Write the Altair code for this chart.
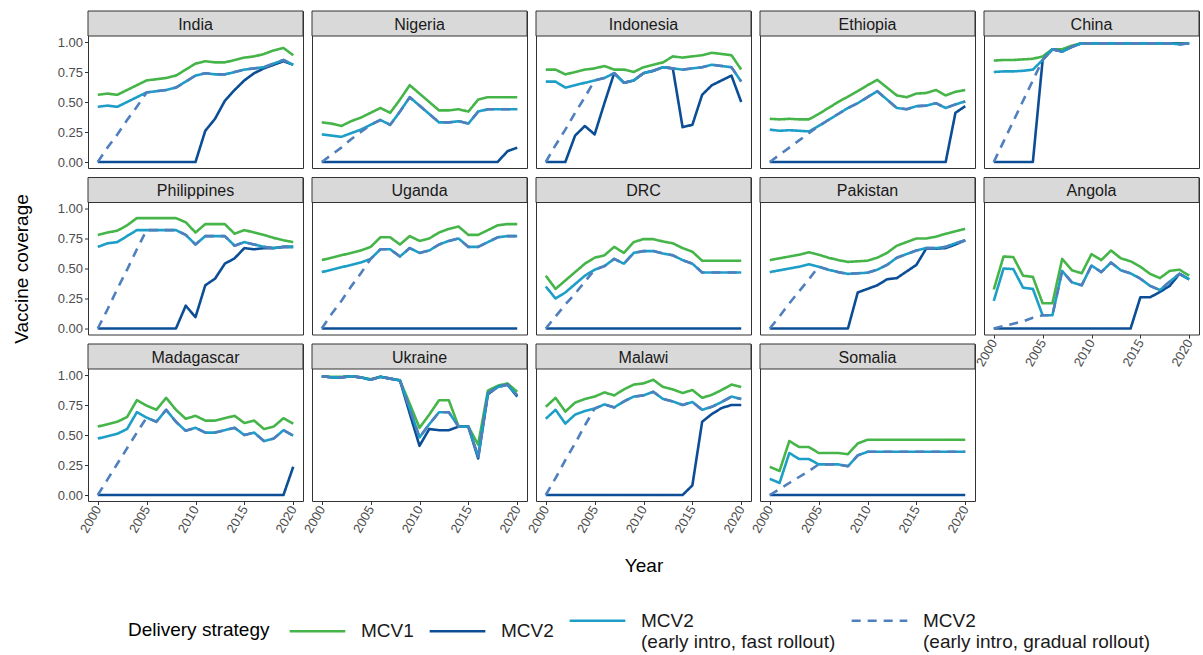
import altair as alt
import pandas as pd

FONT = "Liberation Sans"
YEARS = list(range(2000, 2021))

COUNTRIES = ["India", "Nigeria", "Indonesia", "Ethiopia", "China",
             "Philippines", "Uganda", "DRC", "Pakistan", "Angola",
             "Madagascar", "Ukraine", "Malawi", "Somalia"]

STRATEGIES = ["MCV1", "MCV2",
              "MCV2|(early intro, fast rollout)",
              "MCV2|(early intro, gradual rollout)"]
COLORS = ["#45b549", "#0c4e96", "#1d9ec7", "#4f7fbd"]

# Coverage per year, 2000-2020
INDIA_MCV1 = [0.56, 0.57, 0.56, 0.60, 0.64, 0.68, 0.69, 0.70, 0.72, 0.77, 0.82, 0.84, 0.83, 0.83, 0.85, 0.87, 0.88, 0.90, 0.93, 0.95, 0.89]
INDIA_MCV2 = [0, 0, 0, 0, 0, 0, 0, 0, 0, 0, 0, 0.26, 0.36, 0.51, 0.60, 0.68, 0.74, 0.78, 0.81, 0.84, 0.81]
INDIA_FAST = [0.46, 0.47, 0.46, 0.50, 0.54, 0.58, 0.59, 0.60, 0.62, 0.67, 0.72, 0.74, 0.73, 0.73, 0.75, 0.77, 0.78, 0.79, 0.82, 0.85, 0.81]
INDIA_GRADUAL = [0, 0.12, 0.23, 0.35, 0.46, 0.58, 0.59, 0.60, 0.62, 0.67, 0.72, 0.74, 0.73, 0.73, 0.75, 0.77, 0.78, 0.79, 0.82, 0.85, 0.81]

NIGERIA_MCV1 = [0.33, 0.32, 0.30, 0.34, 0.37, 0.41, 0.45, 0.41, 0.52, 0.64, 0.57, 0.50, 0.43, 0.43, 0.44, 0.42, 0.52, 0.54, 0.54, 0.54, 0.54]
NIGERIA_MCV2 = [0, 0, 0, 0, 0, 0, 0, 0, 0, 0, 0, 0, 0, 0, 0, 0, 0, 0, 0, 0.09, 0.12]
NIGERIA_FAST = [0.23, 0.22, 0.21, 0.24, 0.27, 0.31, 0.35, 0.31, 0.42, 0.54, 0.47, 0.40, 0.33, 0.33, 0.34, 0.32, 0.42, 0.44, 0.44, 0.44, 0.44]
NIGERIA_GRADUAL = [0, 0.06, 0.12, 0.19, 0.25, 0.31, 0.35, 0.31, 0.42, 0.54, 0.47, 0.40, 0.33, 0.33, 0.34, 0.32, 0.42, 0.44, 0.44, 0.44, 0.44]

INDONESIA_MCV1 = [0.77, 0.77, 0.73, 0.75, 0.77, 0.78, 0.80, 0.77, 0.77, 0.75, 0.79, 0.81, 0.83, 0.88, 0.87, 0.88, 0.89, 0.91, 0.90, 0.89, 0.77]
INDONESIA_MCV2 = [0, 0, 0, 0.22, 0.30, 0.23, 0.49, 0.74, 0.66, 0.68, 0.74, 0.76, 0.79, 0.78, 0.29, 0.31, 0.56, 0.64, 0.68, 0.72, 0.50]
INDONESIA_FAST = [0.67, 0.67, 0.62, 0.64, 0.66, 0.68, 0.70, 0.74, 0.66, 0.68, 0.74, 0.76, 0.79, 0.78, 0.77, 0.78, 0.79, 0.81, 0.80, 0.79, 0.67]
INDONESIA_GRADUAL = [0, 0.14, 0.27, 0.41, 0.54, 0.68, 0.70, 0.74, 0.66, 0.68, 0.74, 0.76, 0.79, 0.78, 0.77, 0.78, 0.79, 0.81, 0.80, 0.79, 0.67]

ETHIOPIA_MCV1 = [0.36, 0.355, 0.36, 0.355, 0.355, 0.40, 0.45, 0.50, 0.545, 0.59, 0.64, 0.685, 0.62, 0.555, 0.54, 0.57, 0.575, 0.60, 0.555, 0.585, 0.60]
ETHIOPIA_MCV2 = [0, 0, 0, 0, 0, 0, 0, 0, 0, 0, 0, 0, 0, 0, 0, 0, 0, 0, 0, 0.41, 0.465]
ETHIOPIA_FAST = [0.27, 0.26, 0.265, 0.26, 0.255, 0.30, 0.35, 0.40, 0.45, 0.49, 0.54, 0.59, 0.52, 0.45, 0.44, 0.465, 0.47, 0.49, 0.45, 0.48, 0.505]
ETHIOPIA_GRADUAL = [0, 0.06, 0.12, 0.18, 0.24, 0.30, 0.35, 0.40, 0.45, 0.49, 0.54, 0.59, 0.52, 0.45, 0.44, 0.465, 0.47, 0.49, 0.45, 0.48, 0.505]

CHINA_MCV1 = [0.845, 0.85, 0.85, 0.855, 0.86, 0.88, 0.94, 0.94, 0.97, 0.99, 0.99, 0.99, 0.99, 0.99, 0.99, 0.99, 0.99, 0.99, 0.99, 0.99, 0.99]
CHINA_MCV2 = [0, 0, 0, 0, 0, 0.85, 0.94, 0.92, 0.96, 0.99, 0.99, 0.99, 0.99, 0.99, 0.99, 0.99, 0.99, 0.99, 0.99, 0.985, 0.99]
CHINA_FAST = [0.75, 0.755, 0.755, 0.76, 0.77, 0.85, 0.94, 0.92, 0.96, 0.99, 0.99, 0.99, 0.99, 0.99, 0.99, 0.99, 0.99, 0.99, 0.99, 0.98, 0.99]
CHINA_GRADUAL = [0, 0.17, 0.34, 0.51, 0.68, 0.85, 0.94, 0.92, 0.96, 0.99, 0.99, 0.99, 0.99, 0.99, 0.99, 0.99, 0.99, 0.99, 0.99, 0.98, 0.99]

PHILIPPINES_MCV1 = [0.78, 0.80, 0.815, 0.86, 0.92, 0.92, 0.92, 0.92, 0.92, 0.885, 0.80, 0.87, 0.87, 0.87, 0.79, 0.82, 0.80, 0.78, 0.755, 0.735, 0.72]
PHILIPPINES_MCV2 = [0, 0, 0, 0, 0, 0, 0, 0, 0, 0.19, 0.095, 0.36, 0.415, 0.54, 0.585, 0.67, 0.66, 0.67, 0.67, 0.68, 0.68]
PHILIPPINES_FAST = [0.68, 0.71, 0.72, 0.77, 0.82, 0.82, 0.82, 0.82, 0.82, 0.78, 0.70, 0.77, 0.77, 0.77, 0.69, 0.72, 0.70, 0.68, 0.67, 0.68, 0.68]
PHILIPPINES_GRADUAL = [0, 0.16, 0.33, 0.49, 0.66, 0.82, 0.82, 0.82, 0.82, 0.78, 0.70, 0.77, 0.77, 0.77, 0.69, 0.72, 0.70, 0.68, 0.67, 0.68, 0.68]

UGANDA_MCV1 = [0.57, 0.59, 0.61, 0.63, 0.65, 0.68, 0.76, 0.76, 0.70, 0.77, 0.73, 0.75, 0.80, 0.83, 0.85, 0.78, 0.78, 0.82, 0.86, 0.87, 0.87]
UGANDA_MCV2 = [0, 0, 0, 0, 0, 0, 0, 0, 0, 0, 0, 0, 0, 0, 0, 0, 0, 0, 0, 0, 0]
UGANDA_FAST = [0.47, 0.49, 0.51, 0.53, 0.55, 0.58, 0.66, 0.66, 0.60, 0.67, 0.63, 0.65, 0.70, 0.73, 0.75, 0.68, 0.68, 0.72, 0.76, 0.77, 0.77]
UGANDA_GRADUAL = [0, 0.12, 0.23, 0.35, 0.46, 0.58, 0.66, 0.66, 0.60, 0.67, 0.63, 0.65, 0.70, 0.73, 0.75, 0.68, 0.68, 0.72, 0.76, 0.77, 0.77]

DRC_MCV1 = [0.44, 0.33, 0.40, 0.47, 0.54, 0.59, 0.61, 0.68, 0.63, 0.72, 0.745, 0.745, 0.725, 0.71, 0.67, 0.64, 0.565, 0.565, 0.565, 0.565, 0.565]
DRC_MCV2 = [0, 0, 0, 0, 0, 0, 0, 0, 0, 0, 0, 0, 0, 0, 0, 0, 0, 0, 0, 0, 0]
DRC_FAST = [0.35, 0.25, 0.30, 0.37, 0.44, 0.49, 0.52, 0.58, 0.54, 0.63, 0.645, 0.645, 0.625, 0.61, 0.57, 0.54, 0.467, 0.467, 0.467, 0.467, 0.467]
DRC_GRADUAL = [0, 0.10, 0.20, 0.29, 0.39, 0.49, 0.52, 0.58, 0.54, 0.63, 0.645, 0.645, 0.625, 0.61, 0.57, 0.54, 0.467, 0.467, 0.467, 0.467, 0.467]

PAKISTAN_MCV1 = [0.57, 0.585, 0.60, 0.615, 0.635, 0.615, 0.59, 0.57, 0.555, 0.56, 0.565, 0.59, 0.63, 0.69, 0.72, 0.75, 0.75, 0.765, 0.79, 0.81, 0.83]
PAKISTAN_MCV2 = [0, 0, 0, 0, 0, 0, 0, 0, 0, 0.30, 0.33, 0.36, 0.41, 0.42, 0.475, 0.53, 0.665, 0.665, 0.67, 0.70, 0.735]
PAKISTAN_FAST = [0.47, 0.485, 0.50, 0.515, 0.535, 0.515, 0.49, 0.47, 0.455, 0.46, 0.465, 0.49, 0.53, 0.59, 0.62, 0.65, 0.67, 0.67, 0.68, 0.71, 0.735]
PAKISTAN_GRADUAL = [0, 0.10, 0.21, 0.31, 0.41, 0.515, 0.49, 0.47, 0.455, 0.46, 0.465, 0.49, 0.53, 0.59, 0.62, 0.65, 0.67, 0.67, 0.68, 0.71, 0.735]

ANGOLA_MCV1 = [0.325, 0.60, 0.595, 0.44, 0.43, 0.21, 0.21, 0.58, 0.485, 0.46, 0.62, 0.57, 0.65, 0.585, 0.56, 0.515, 0.455, 0.42, 0.48, 0.49, 0.44]
ANGOLA_MCV2 = [0, 0, 0, 0, 0, 0, 0, 0, 0, 0, 0, 0, 0, 0, 0, 0.26, 0.26, 0.305, 0.355, 0.455, 0.41]
ANGOLA_FAST = [0.23, 0.50, 0.495, 0.34, 0.33, 0.11, 0.11, 0.48, 0.385, 0.36, 0.525, 0.47, 0.55, 0.485, 0.46, 0.415, 0.355, 0.32, 0.39, 0.455, 0.41]
ANGOLA_GRADUAL = [0, 0.02, 0.04, 0.06, 0.09, 0.11, 0.11, 0.48, 0.385, 0.36, 0.525, 0.47, 0.55, 0.485, 0.46, 0.415, 0.355, 0.32, 0.39, 0.455, 0.41]

MADAGASCAR_MCV1 = [0.57, 0.59, 0.61, 0.65, 0.79, 0.745, 0.71, 0.81, 0.71, 0.635, 0.66, 0.62, 0.62, 0.64, 0.66, 0.60, 0.62, 0.55, 0.57, 0.64, 0.595]
MADAGASCAR_MCV2 = [0, 0, 0, 0, 0, 0, 0, 0, 0, 0, 0, 0, 0, 0, 0, 0, 0, 0, 0, 0, 0.235]
MADAGASCAR_FAST = [0.47, 0.49, 0.51, 0.55, 0.69, 0.645, 0.61, 0.71, 0.61, 0.535, 0.56, 0.52, 0.52, 0.54, 0.56, 0.50, 0.52, 0.45, 0.47, 0.54, 0.495]
MADAGASCAR_GRADUAL = [0, 0.13, 0.26, 0.39, 0.52, 0.645, 0.61, 0.71, 0.61, 0.535, 0.56, 0.52, 0.52, 0.54, 0.56, 0.50, 0.52, 0.45, 0.47, 0.54, 0.495]

UKRAINE_MCV1 = [0.99, 0.985, 0.985, 0.99, 0.98, 0.965, 0.985, 0.97, 0.955, 0.76, 0.56, 0.67, 0.79, 0.79, 0.57, 0.57, 0.42, 0.87, 0.91, 0.93, 0.86]
UKRAINE_MCV2 = [0.99, 0.98, 0.98, 0.99, 0.98, 0.96, 0.985, 0.97, 0.955, 0.68, 0.41, 0.55, 0.54, 0.54, 0.57, 0.57, 0.305, 0.84, 0.90, 0.92, 0.82]
UKRAINE_FAST = [0.99, 0.98, 0.98, 0.99, 0.98, 0.96, 0.985, 0.97, 0.955, 0.72, 0.48, 0.59, 0.69, 0.69, 0.57, 0.57, 0.32, 0.85, 0.90, 0.92, 0.83]
UKRAINE_GRADUAL = [0.99, 0.98, 0.98, 0.99, 0.98, 0.96, 0.985, 0.97, 0.955, 0.72, 0.48, 0.59, 0.69, 0.69, 0.57, 0.57, 0.32, 0.85, 0.90, 0.92, 0.83]

MALAWI_MCV1 = [0.735, 0.81, 0.695, 0.77, 0.80, 0.82, 0.855, 0.83, 0.88, 0.92, 0.93, 0.96, 0.90, 0.88, 0.85, 0.875, 0.81, 0.835, 0.875, 0.92, 0.90]
MALAWI_MCV2 = [0, 0, 0, 0, 0, 0, 0, 0, 0, 0, 0, 0, 0, 0, 0, 0.08, 0.61, 0.675, 0.725, 0.75, 0.75]
MALAWI_FAST = [0.635, 0.71, 0.595, 0.67, 0.70, 0.72, 0.755, 0.73, 0.78, 0.82, 0.83, 0.86, 0.80, 0.78, 0.75, 0.775, 0.71, 0.735, 0.775, 0.82, 0.80]
MALAWI_GRADUAL = [0, 0.14, 0.29, 0.43, 0.58, 0.72, 0.755, 0.73, 0.78, 0.82, 0.83, 0.86, 0.80, 0.78, 0.75, 0.775, 0.71, 0.735, 0.775, 0.82, 0.80]

SOMALIA_MCV1 = [0.235, 0.20, 0.45, 0.40, 0.40, 0.35, 0.35, 0.35, 0.34, 0.43, 0.46, 0.46, 0.46, 0.46, 0.46, 0.46, 0.46, 0.46, 0.46, 0.46, 0.46]
SOMALIA_MCV2 = [0, 0, 0, 0, 0, 0, 0, 0, 0, 0, 0, 0, 0, 0, 0, 0, 0, 0, 0, 0, 0]
SOMALIA_FAST = [0.135, 0.10, 0.35, 0.30, 0.30, 0.255, 0.255, 0.255, 0.24, 0.33, 0.36, 0.36, 0.36, 0.36, 0.36, 0.36, 0.36, 0.36, 0.36, 0.36, 0.36]
SOMALIA_GRADUAL = [0, 0.05, 0.10, 0.15, 0.20, 0.255, 0.255, 0.255, 0.24, 0.33, 0.36, 0.36, 0.36, 0.36, 0.36, 0.36, 0.36, 0.36, 0.36, 0.36, 0.36]

SERIES = {
    "India": [INDIA_MCV1, INDIA_MCV2, INDIA_FAST, INDIA_GRADUAL],
    "Nigeria": [NIGERIA_MCV1, NIGERIA_MCV2, NIGERIA_FAST, NIGERIA_GRADUAL],
    "Indonesia": [INDONESIA_MCV1, INDONESIA_MCV2, INDONESIA_FAST, INDONESIA_GRADUAL],
    "Ethiopia": [ETHIOPIA_MCV1, ETHIOPIA_MCV2, ETHIOPIA_FAST, ETHIOPIA_GRADUAL],
    "China": [CHINA_MCV1, CHINA_MCV2, CHINA_FAST, CHINA_GRADUAL],
    "Philippines": [PHILIPPINES_MCV1, PHILIPPINES_MCV2, PHILIPPINES_FAST, PHILIPPINES_GRADUAL],
    "Uganda": [UGANDA_MCV1, UGANDA_MCV2, UGANDA_FAST, UGANDA_GRADUAL],
    "DRC": [DRC_MCV1, DRC_MCV2, DRC_FAST, DRC_GRADUAL],
    "Pakistan": [PAKISTAN_MCV1, PAKISTAN_MCV2, PAKISTAN_FAST, PAKISTAN_GRADUAL],
    "Angola": [ANGOLA_MCV1, ANGOLA_MCV2, ANGOLA_FAST, ANGOLA_GRADUAL],
    "Madagascar": [MADAGASCAR_MCV1, MADAGASCAR_MCV2, MADAGASCAR_FAST, MADAGASCAR_GRADUAL],
    "Ukraine": [UKRAINE_MCV1, UKRAINE_MCV2, UKRAINE_FAST, UKRAINE_GRADUAL],
    "Malawi": [MALAWI_MCV1, MALAWI_MCV2, MALAWI_FAST, MALAWI_GRADUAL],
    "Somalia": [SOMALIA_MCV1, SOMALIA_MCV2, SOMALIA_FAST, SOMALIA_GRADUAL],
}

# Panel geometry: strip band on top of the plotting area
W = 215
STRIP = 25
PLOT = 132
H = STRIP + PLOT
NCOL = 5

color_scale = alt.Scale(domain=STRATEGIES, range=COLORS)
dash_scale = alt.Scale(domain=STRATEGIES, range=[[1, 0], [1, 0], [1, 0], [9, 7]])
opacity_scale = alt.Scale(domain=STRATEGIES, range=[1, 1, 1, 0.75])


def long_frame(country):
    rows = []
    for strategy, values in zip(STRATEGIES, SERIES[country]):
        for year, v in zip(YEARS, values):
            rows.append({"country": country, "strategy": strategy, "year": year, "value": v})
    return pd.DataFrame(rows)


def panel(idx, country):
    row, col = divmod(idx, NCOL)
    show_y = col == 0
    show_x = row == 2 or country == "Angola"

    x_kwargs = {}
    if show_x:
        x_kwargs["axis"] = alt.Axis(values=[2000, 2005, 2010, 2015, 2020], format="d",
                                    labelAngle=300, labelAlign="right", labelBaseline="middle")
    else:
        x_kwargs["axis"] = None
    x_title = "Year" if country == "Malawi" else None

    y_kwargs = {}
    if show_y:
        y_kwargs["axis"] = alt.Axis(values=[0, 0.25, 0.5, 0.75, 1.0], format=".2f")
    else:
        y_kwargs["axis"] = None
    y_title = "Vaccine coverage" if country == "Philippines" else None

    lines = alt.Chart(long_frame(country)).mark_line(strokeWidth=2.6, strokeJoin="round").encode(
        x=alt.X("year:Q", scale=alt.Scale(domain=[1999, 2021], nice=False, zero=False),
                title=x_title, **x_kwargs),
        y=alt.Y("value:Q", scale=alt.Scale(domain=[-0.05, 1.05], range=[H, STRIP], nice=False, zero=False),
                title=y_title, **y_kwargs),
        color=alt.Color("strategy:N", scale=color_scale, sort=STRATEGIES,
                        legend=alt.Legend(title="Delivery strategy",
                                          labelExpr="split(datum.label, '|')")),
        strokeDash=alt.StrokeDash("strategy:N", scale=dash_scale, sort=STRATEGIES),
        opacity=alt.Opacity("strategy:N", scale=opacity_scale, sort=STRATEGIES),
    )

    strip_df = pd.DataFrame({"country": [country]})
    strip_bg = alt.Chart(strip_df).mark_rect(fill="#d9d9d9", stroke="#333333", strokeWidth=1).encode(
        x=alt.value(0), x2=alt.value(W), y=alt.value(0), y2=alt.value(STRIP)
    )
    strip_txt = alt.Chart(strip_df).mark_text(fontSize=16, color="#1a1a1a", font=FONT).encode(
        x=alt.value(W / 2), y=alt.value(STRIP / 2 + 1), text="country:N"
    )
    return alt.layer(strip_bg, strip_txt, lines).properties(width=W, height=H)


panels = [panel(i, c) for i, c in enumerate(COUNTRIES)]

chart = (
    alt.concat(*panels, columns=NCOL, spacing={"row": 9.5, "column": 9}, bounds="flush")
    .resolve_scale(color="shared", strokeDash="shared", opacity="shared")
    .properties(padding={"left": 11, "top": 10, "right": 2, "bottom": 1}, background="white")
    .configure(font=FONT)
    .configure_view(stroke="#333333", strokeWidth=1)
    .configure_axis(domain=False, grid=False, tickColor="#333333", tickSize=3.5, tickWidth=1,
                    labelColor="#4d4d4d", labelFontSize=13, labelPadding=2,
                    titleColor="#000000", titleFontSize=19, titleFontWeight="normal")
    .configure_axisY(titlePadding=26)
    .configure_axisX(titlePadding=21)
    .configure_legend(orient="none", legendX=40, legendY=580, direction="horizontal",
                      titleOrient="left", titleAnchor="middle", titleBaseline="top",
                      titleFontSize=19, titleFontWeight="normal",
                      titleColor="#000000", titlePadding=18,
                      labelFontSize=19, labelColor="#1a1a1a", labelOffset=14, labelLimit=0,
                      symbolType="stroke", symbolSize=3100, symbolStrokeWidth=2.6,
                      columnPadding=10)
)

chart.save("out.html", embed_options={"renderer": "svg", "actions": False})
